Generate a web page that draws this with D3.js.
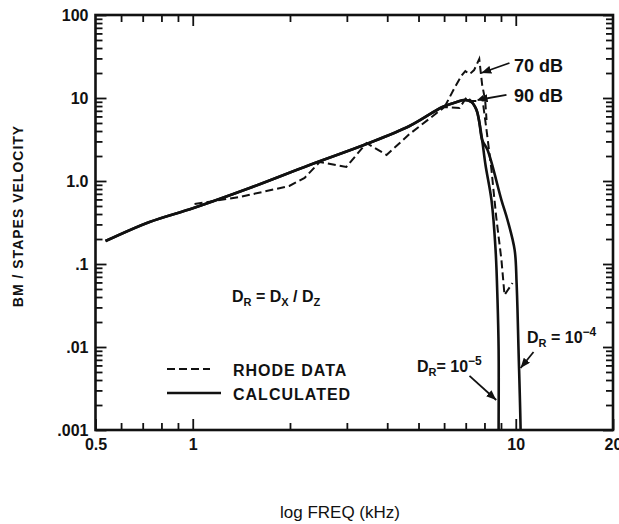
<!DOCTYPE html>
<html>
<head>
<meta charset="utf-8">
<script src="https://cdn.jsdelivr.net/npm/d3@7/dist/d3.min.js"></script>
<style>
  body { margin: 0; background: #fff; }
  text { font-family: "Liberation Sans", Arial, sans-serif; fill: #111; }
</style>
</head>
<body>
<svg id="chart" width="619" height="524"></svg>
<script>
// [freq kHz, BM/stapes velocity]
const calcShared = [[0.537, 0.189], [0.735, 0.321], [1.006, 0.473], [1.50, 0.823], [2.30, 1.56],
  [3.45, 2.79], [4.69, 4.60], [5.93, 7.79], [6.56, 8.95], [6.95, 9.46], [7.29, 8.95],
  [7.56, 7.16], [7.71, 5.14], [7.87, 3.12]];
const calcTailR5 = [[8.06, 1.56], [8.41, 0.59], [8.66, 0.148], [8.78, 0.0368], [8.85, 0.0092],
  [8.85, 0.001], [8.85, 0.0004]];
const calcTailR4 = [[8.18, 2.36], [9.03, 0.59], [9.43, 0.339], [9.92, 0.148], [10.06, 0.059],
  [10.2, 0.0092], [10.35, 0.001], [10.35, 0.0004]];

const rhodeShared = [[1.013, 0.528], [1.40, 0.642], [1.99, 0.871], [2.22, 1.09], [2.47, 1.69],
  [2.99, 1.48], [3.45, 2.87], [3.98, 2.06], [4.69, 3.68], [6.02, 7.79]];
const rhode90 = [[6.70, 7.58], [7.05, 10.3], [7.29, 9.2], [7.62, 9.2], [7.87, 10.3], [8.12, 4.11],
  [8.41, 1.36], [8.70, 0.368], [9.03, 0.112], [9.23, 0.0423], [9.77, 0.059]];
const rhode70 = [[6.46, 13.2], [6.80, 18.7], [6.98, 21.1], [7.20, 19.4], [7.43, 21.7], [7.71, 29.5],
  [7.87, 14.4], [8.04, 9.46], [8.12, 5.43]];

const yMajor = [0.001, 0.01, 0.1, 1, 10, 100];
const yLabels = ['.001', '.01', '.1', '1.0', '10', '100'];
const xMajor = [0.5, 1, 10, 20];
const xLabels = ['0.5', '1', '10', '20'];

const svg = d3.select('#chart');
const x0 = 95.5, x1 = 613, y0 = 15, y1 = 430;

const x = d3.scaleLog().domain([0.5, 20]).range([x0, x1]);
const y = d3.scaleLog().domain([0.001, 100]).range([y1, y0]);

// minor tick positions, 2..9 within each decade
const yMinor = [];
[0.001, 0.01, 0.1, 1, 10].forEach(function(d) {
  for (let k = 2; k <= 9; k++) yMinor.push(d * k);
});
const xMinor = [0.6, 0.7, 0.8, 0.9, 2, 3, 4, 5, 6, 7, 8, 9];

function styleAxis(sel) {
  sel.select('.domain').remove();
  sel.selectAll('line').attr('stroke', '#111').attr('stroke-width', 1.8);
  sel.attr('font-family', '"Liberation Sans", Arial, sans-serif')
    .attr('font-size', 16)
    .attr('font-weight', 'bold');
  sel.selectAll('text').attr('fill', '#111');
}

// left
svg.append('g').attr('transform', `translate(${x0},0)`)
  .call(d3.axisLeft(y).tickValues(yMinor).tickSize(-7).tickFormat(''))
  .call(styleAxis);
svg.append('g').attr('transform', `translate(${x0},0)`)
  .call(d3.axisLeft(y).tickValues(yMajor).tickSize(-11).tickPadding(7)
    .tickFormat((d, i) => yLabels[i]))
  .call(styleAxis);
// right
svg.append('g').attr('transform', `translate(${x1},0)`)
  .call(d3.axisRight(y).tickValues(yMinor).tickSize(-7).tickFormat(''))
  .call(styleAxis);
svg.append('g').attr('transform', `translate(${x1},0)`)
  .call(d3.axisRight(y).tickValues(yMajor).tickSize(-10).tickFormat(''))
  .call(styleAxis);
// top
svg.append('g').attr('transform', `translate(0,${y0})`)
  .call(d3.axisTop(x).tickValues(xMinor).tickSize(-7).tickFormat(''))
  .call(styleAxis);
svg.append('g').attr('transform', `translate(0,${y0})`)
  .call(d3.axisTop(x).tickValues([1, 10]).tickSize(-11).tickFormat(''))
  .call(styleAxis);
// bottom
svg.append('g').attr('transform', `translate(0,${y1})`)
  .call(d3.axisBottom(x).tickValues(xMinor).tickSize(-7).tickFormat(''))
  .call(styleAxis);
svg.append('g').attr('transform', `translate(0,${y1})`)
  .call(d3.axisBottom(x).tickValues(xMajor).tickSize(-11).tickPadding(9)
    .tickFormat((d, i) => xLabels[i]))
  .call(styleAxis);

svg.append('rect')
  .attr('x', x0).attr('y', y0)
  .attr('width', x1 - x0).attr('height', y1 - y0)
  .attr('fill', 'none').attr('stroke', '#111').attr('stroke-width', 2.6);

svg.append('clipPath').attr('id', 'plotClip')
  .append('rect').attr('x', x0).attr('y', y0).attr('width', x1 - x0).attr('height', y1 - y0);

const plot = svg.append('g').attr('clip-path', 'url(#plotClip)');

const smooth = d3.line()
  .x(d => x(d[0])).y(d => y(d[1]))
  .curve(d3.curveCatmullRom.alpha(0.5));
const straight = d3.line()
  .x(d => x(d[0])).y(d => y(d[1]));

[calcShared.concat(calcTailR5), calcShared.concat(calcTailR4)].forEach(function(s) {
  plot.append('path')
    .attr('d', smooth(s))
    .attr('fill', 'none')
    .attr('stroke', '#111')
    .attr('stroke-width', 2.6);
});

[rhodeShared.concat(rhode90), [rhodeShared[rhodeShared.length - 1]].concat(rhode70)].forEach(function(s) {
  plot.append('path')
    .attr('d', straight(s))
    .attr('fill', 'none')
    .attr('stroke', '#111')
    .attr('stroke-width', 2)
    .attr('stroke-dasharray', '8,4');
});

// arrows
svg.append('defs').append('marker')
  .attr('id', 'head')
  .attr('viewBox', '0 0 10 8')
  .attr('refX', 10).attr('refY', 4)
  .attr('markerWidth', 10).attr('markerHeight', 8)
  .attr('markerUnits', 'userSpaceOnUse')
  .attr('orient', 'auto')
  .append('path').attr('d', 'M0,0L10,4L0,8Z').attr('fill', '#111');

const arrows = [
  {from: [9.56, 26.4], to: [7.82, 20]},
  {from: [9.36, 10.9], to: [7.62, 9.46]},
  {from: [7.19, 0.00448], to: [8.70, 0.0023]},
  {from: [11.35, 0.0087], to: [10.35, 0.00558]}
];
arrows.forEach(function(a) {
  svg.append('line')
    .attr('x1', x(a.from[0])).attr('y1', y(a.from[1]))
    .attr('x2', x(a.to[0])).attr('y2', y(a.to[1]))
    .attr('stroke', '#111').attr('stroke-width', 1.8)
    .attr('marker-end', 'url(#head)');
});

// labels
svg.append('text').attr('x', 514).attr('y', 72)
  .attr('font-size', 18).attr('font-weight', 'bold').text('70 dB');
svg.append('text').attr('x', 514).attr('y', 102)
  .attr('font-size', 18).attr('font-weight', 'bold').text('90 dB');

function dLabel(px, py, parts) {
  const t = svg.append('text').attr('x', px).attr('y', py)
    .attr('font-size', 16).attr('font-weight', 'bold');
  parts.forEach(function(p) {
    t.append('tspan').attr('dy', p.dy || 0)
      .attr('font-size', p.size || 16).text(p.t);
  });
}
dLabel(232, 302, [{t: 'D'}, {t: 'R', dy: 4, size: 11}, {t: ' = D', dy: -4},
  {t: 'X', dy: 4, size: 11}, {t: ' / D', dy: -4}, {t: 'Z', dy: 4, size: 11}]);
dLabel(417, 372, [{t: 'D'}, {t: 'R', dy: 4, size: 11}, {t: '= 10', dy: -4},
  {t: '−5', dy: -7, size: 12}]);
dLabel(527, 343, [{t: 'D'}, {t: 'R', dy: 4, size: 11}, {t: ' = 10', dy: -4},
  {t: '−4', dy: -7, size: 12}]);

// legend
svg.append('line').attr('x1', 167).attr('x2', 210).attr('y1', 369).attr('y2', 369)
  .attr('stroke', '#111').attr('stroke-width', 2).attr('stroke-dasharray', '8,4');
svg.append('line').attr('x1', 167).attr('x2', 221).attr('y1', 393).attr('y2', 393)
  .attr('stroke', '#111').attr('stroke-width', 2.6);
svg.append('text').attr('x', 233).attr('y', 376)
  .attr('font-size', 16).attr('font-weight', 'bold').attr('letter-spacing', 1)
  .text('RHODE DATA');
svg.append('text').attr('x', 233).attr('y', 400)
  .attr('font-size', 16).attr('font-weight', 'bold').attr('letter-spacing', 1)
  .text('CALCULATED');

// axis titles
svg.append('text')
  .attr('transform', 'translate(23,216) rotate(-90)')
  .attr('text-anchor', 'middle')
  .attr('font-size', 14).attr('font-weight', 'bold').attr('letter-spacing', 1)
  .text('BM / STAPES VELOCITY');
svg.append('text')
  .attr('x', 340).attr('y', 518)
  .attr('text-anchor', 'middle')
  .attr('font-size', 17)
  .text('log FREQ (kHz)');
</script>
</body>
</html>
